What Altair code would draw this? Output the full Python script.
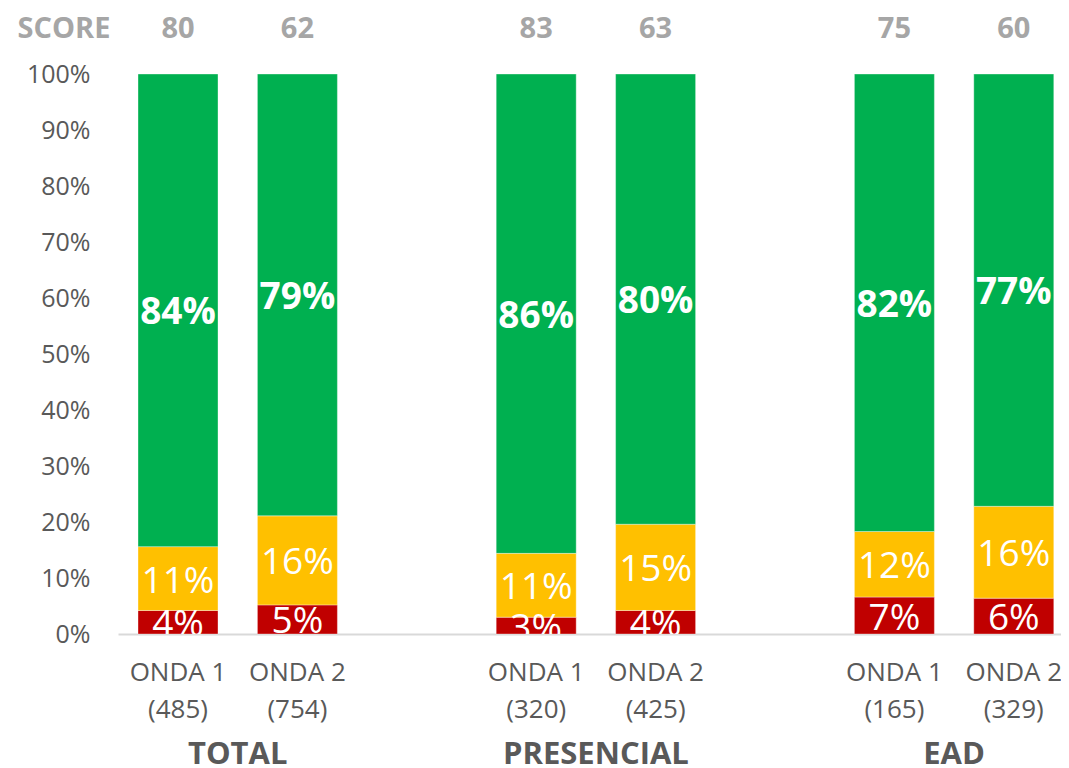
import altair as alt
import pandas as pd

groups = ["TOTAL", "PRESENCIAL", "EAD"]
waves = ["ONDA 1", "ONDA 2"]
sample_sizes = [485, 754, 320, 425, 165, 329]
scores = [80, 62, 83, 63, 75, 60]
red_vals = [4.2, 5.2, 3.0, 4.2, 6.6, 6.4]
yellow_vals = [11.4, 15.9, 11.4, 15.4, 11.7, 16.4]
green_vals = [84.4, 78.9, 85.6, 80.4, 81.7, 77.2]
segments = ["red", "yellow", "green"]
seg_colors = ["#C00000", "#FFC000", "#00B050"]
y_ticks = [0, 10, 20, 30, 40, 50, 60, 70, 80, 90, 100]

FONT = "Open Sans"

keys, grp_col, wave_col = [], [], []
for g in groups:
    for w in waves:
        keys.append(f"{g}|{w}")
        grp_col.append(g)
        wave_col.append(w)

domain = []
for i, g in enumerate(groups):
    if i > 0:
        domain.append(f"gap{i}")
    for w in waves:
        domain.append(f"{g}|{w}")

rows = []
for i, k in enumerate(keys):
    for order, (s, vals) in enumerate(zip(segments, [red_vals, yellow_vals, green_vals])):
        rows.append({"key": k, "segment": s, "order": order, "value": vals[i]})
seg_df = pd.DataFrame(rows)

bar_df = pd.DataFrame({
    "key": keys, "group": grp_col, "wave": wave_col,
    "n": [f"({n})" for n in sample_sizes], "score": scores,
})

xscale = alt.Scale(domain=domain, paddingInner=0.33, paddingOuter=0.114, align=0.735)
x_enc = alt.X("key:N", scale=xscale,
              axis=alt.Axis(labels=False, ticks=False, title=None,
                            domainColor="#D9D9D9", domainWidth=2, grid=False))

base = alt.Chart(seg_df).transform_stack(
    stack="value", groupby=["key"], as_=["y0", "y1"],
    sort=[alt.SortField("order", order="ascending")]
).transform_calculate(
    mid="(datum.y0 + datum.y1) / 2",
    label="format(datum.value, '.0f') + '%'",
)

bars = base.mark_bar(stroke="white", strokeWidth=0.6, strokeOpacity=0.6).encode(
    x=x_enc,
    y=alt.Y("y0:Q", scale=alt.Scale(domain=[0, 100], nice=False),
            axis=alt.Axis(values=y_ticks, labelExpr="datum.value + '%'", title=None,
                          grid=False, domain=False, ticks=False, labelPadding=28,
                          labelFont=FONT, labelFontSize=25, labelColor="#595959")),
    y2="y1:Q",
    color=alt.Color("segment:N", scale=alt.Scale(domain=segments, range=seg_colors), legend=None),
)

labels_green = base.transform_filter("datum.segment == 'green'").mark_text(
    font=FONT, fontSize=37, fontWeight="bold", color="white", clip=True, baseline="middle", dy=3
).encode(x=alt.X("key:N", scale=xscale), y=alt.Y("mid:Q"), text="label:N")

labels_other = base.transform_filter("datum.segment != 'green'").mark_text(
    font=FONT, fontSize=37, color="white", clip=True, baseline="middle", dy=3
).encode(x=alt.X("key:N", scale=xscale), y=alt.Y("mid:Q"), text="label:N")

bar_base = alt.Chart(bar_df)

score_text = bar_base.mark_text(font=FONT, fontSize=29, fontWeight="bold", color="#A6A6A6",
                                baseline="middle").encode(
    x=alt.X("key:N", scale=xscale), y=alt.value(-45), text="score:N")

score_title = alt.Chart(pd.DataFrame({"t": ["SCORE"]})).mark_text(
    font=FONT, fontSize=29, fontWeight="bold", color="#A6A6A6", baseline="middle"
).encode(x=alt.value(-54), y=alt.value(-45), text="t:N")

wave_text = bar_base.mark_text(font=FONT, fontSize=26, color="#595959", baseline="middle").encode(
    x=alt.X("key:N", scale=xscale), y=alt.value(599), text="wave:N")

n_text = bar_base.mark_text(font=FONT, fontSize=26, color="#595959", baseline="middle").encode(
    x=alt.X("key:N", scale=xscale), y=alt.value(636), text="n:N")

group_text = bar_base.transform_filter("datum.wave == 'ONDA 1'").mark_text(
    font=FONT, fontSize=31, fontWeight="bold", color="#595959", baseline="middle", dx=59.7
).encode(x=alt.X("key:N", scale=xscale), y=alt.value(681), text="group:N")

chart = alt.layer(
    bars, labels_green, labels_other, score_text, score_title, wave_text, n_text, group_text
).properties(
    width=943, height=560,
    autosize=alt.AutoSizeParams(type="none"),
    padding={"left": 110, "top": 66, "right": 0, "bottom": 134},
).configure_view(stroke=None)

chart.save("out.html", embed_options={"renderer": "svg", "actions": False})
